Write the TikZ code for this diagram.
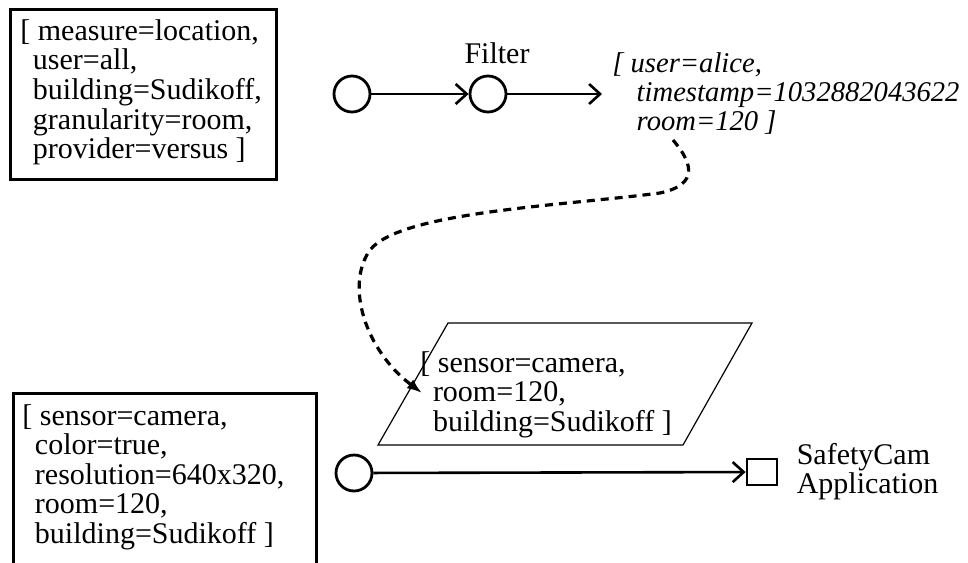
\documentclass[tikz,border=0pt]{standalone}
\usepackage{fontspec}
\setmainfont{Liberation Serif}
\usetikzlibrary{positioning,arrows.meta}

\newcommand{\sangria}{\hspace{0.42em}}

\tikzset{
  puerto/.style={circle, draw, line width=1.4pt, minimum size=18pt, inner sep=0pt},
  flecha/.style={line width=1.3pt, -{Straight Barb[length=5.5pt,width=10pt]}},
  marco/.style={draw, line width=1.5pt, inner sep=0pt},
  texto/.style={inner sep=0pt, anchor=base west, font=\fontsize{15}{14.6}\selectfont},
  punteada/.style={line width=1.6pt, dash pattern=on 4pt off 3pt,
    -{Latex[length=7.5pt,width=5.5pt]}},
}

\begin{document}
\begin{tikzpicture}[x=0.5pt, y=-0.5pt]
  \clip (0,0) rectangle (968,562);

  % Consulta
  \node[marco, anchor=north west, minimum width=133pt, minimum height=85pt] (consulta) at (9,8) {};
  \node[texto] (consultatxt) at (20,40) {\begin{tabular}[t]{@{}l@{}}
    [ measure=location,\\
    \sangria user=all,\\
    \sangria building=Sudikoff,\\
    \sangria granularity=room,\\
    \sangria provider=versus ]
  \end{tabular}};

  % Filtro
  \node[puerto] (entrada) at (352,94) {};
  \node[puerto] (filtro) at (488,94) {};
  \node[texto, anchor=base] (filtrotxt) at (497,63) {Filter};
  \coordinate (salida) at (602,94);
  \draw[flecha] (entrada) -- (filtro);
  \draw[flecha] (filtro) -- (salida);

  % Evento
  \node[texto, font=\fontsize{14.3}{14.6}\selectfont\itshape] (evento) at (612,72) {\begin{tabular}[t]{@{}l@{}}
    [ user=alice,\\
    \hspace{0.85em}timestamp=1032882043622\\
    \hspace{0.85em}room=120 ]
  \end{tabular}};

  % Regla (paralelogramo)
  \draw[line width=0.6pt] (448,323) -- (752,323) -- (683,445) -- (378,445) -- cycle;
  \node[texto] (regla) at (420,372) {\begin{tabular}[t]{@{}l@{}}
    [ sensor=camera,\\
    \sangria room=120,\\
    \sangria building=Sudikoff ]
  \end{tabular}};

  % Enlace punteado
  \coordinate (desde) at (673,140);
  \coordinate (hasta) at (422,393);
  \draw[punteada] (desde) .. controls (690,160) and (702,184) .. (660,193)
    .. controls (560,206) and (400,212) .. (370,250)
    .. controls (345,285) and (365,350) .. (hasta);

  % Camara
  \node[marco, anchor=north west, minimum width=151.5pt, minimum height=110pt] (camara) at (12,392) {};
  \node[texto] (camaratxt) at (22,425) {\begin{tabular}[t]{@{}l@{}}
    [ sensor=camera,\\
    \sangria color=true,\\
    \sangria resolution=640x320,\\
    \sangria room=120,\\
    \sangria building=Sudikoff ]
  \end{tabular}};

  % Aplicacion
  \node[puerto] (fuente) at (354,473) {};
  \node[draw, line width=1.4pt, minimum width=15pt, minimum height=13pt, inner sep=0pt] (app) at (762,472) {};
  \node[texto, anchor=west, right=9pt of app, align=left] (apptxt) {SafetyCam\\Application};
  \draw[flecha] (fuente) -- (app);
\end{tikzpicture}
\end{document}
